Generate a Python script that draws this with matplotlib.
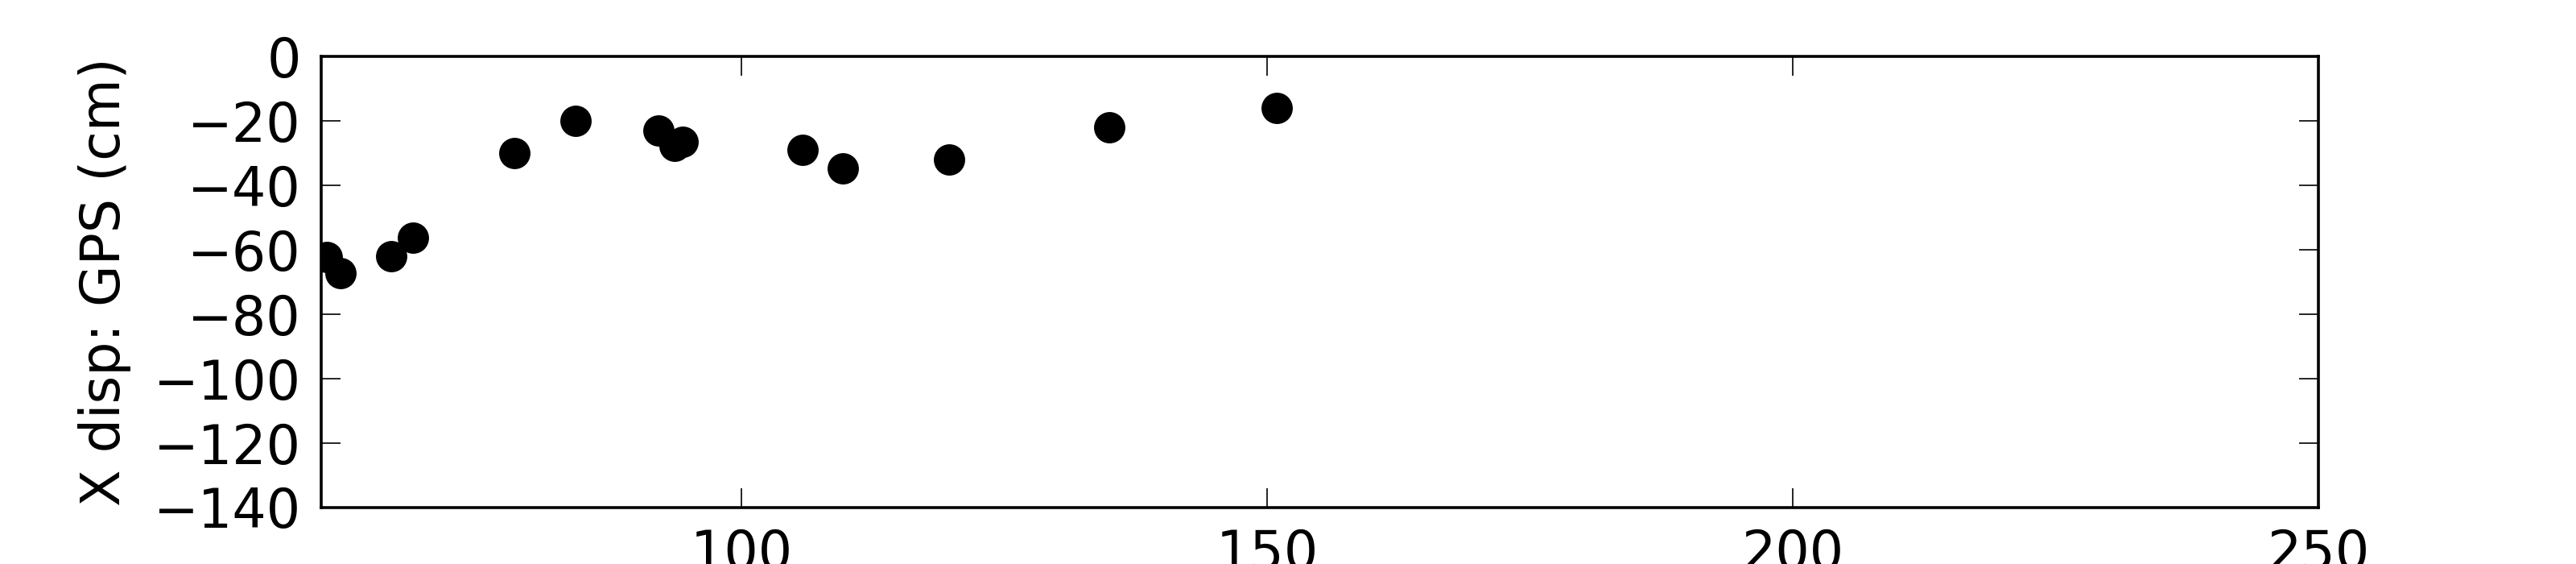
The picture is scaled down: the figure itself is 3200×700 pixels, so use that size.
import matplotlib
matplotlib.use("Agg")
import matplotlib.pyplot as plt

# datos
x_vals = [60.5, 61.8, 66.7, 68.7, 78.4, 84.2, 92.1, 93.6, 94.4, 105.8, 109.6, 119.7, 135.0, 150.9]
y_vals = [-62.4, -67.4, -62.1, -56.3, -30.1, -20.2, -23.1, -27.8, -26.7, -29.1, -34.9, -32.2, -22.2, -16.2]
x_ticks = [100, 150, 200, 250]
y_ticks = [0, -20, -40, -60, -80, -100, -120, -140]

plt.rcParams["font.family"] = "DejaVu Sans"

fig = plt.figure(figsize=(16, 3.5), dpi=200)
ax = fig.add_axes([399/3200, 1 - 629.5/700, (2880 - 399)/3200, (629.5 - 69.6)/700])

ax.plot(x_vals, y_vals, "o", color="black", markersize=13, clip_on=True)

ax.set_xlim(60, 250)
ax.set_ylim(-140, 0)
ax.set_xticks(x_ticks)
ax.set_yticks(y_ticks)
ax.set_ylabel("X disp: GPS (cm)", fontsize=24, labelpad=10)

ax.tick_params(direction="in", length=8.5, width=0.6, labelsize=24, pad=9,
               top=True, right=True)
for s in ax.spines.values():
    s.set_linewidth(1.3)

fig.savefig("out.png", dpi=200)
